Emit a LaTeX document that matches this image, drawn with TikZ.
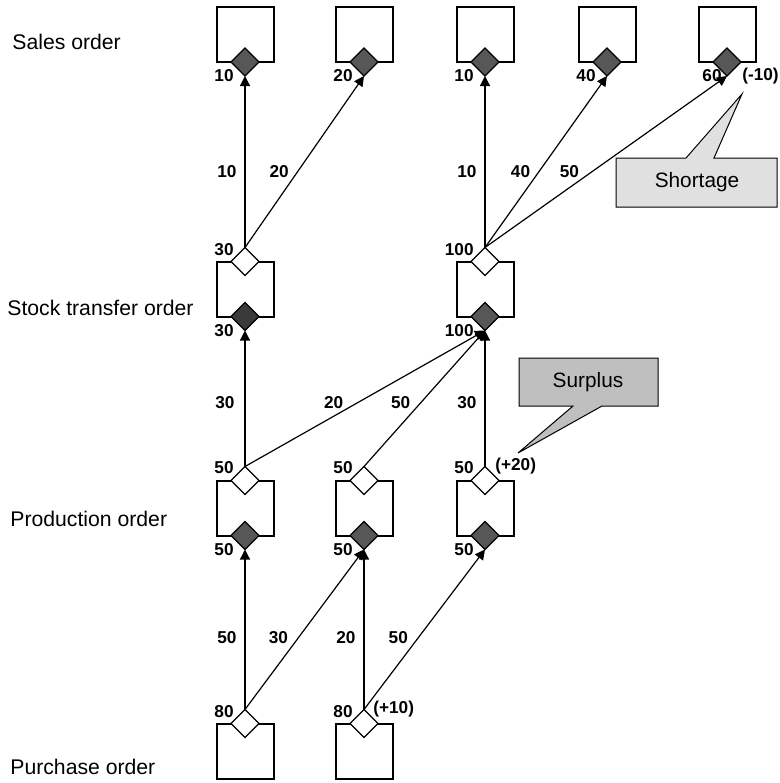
\documentclass[tikz,border=0pt]{standalone}
\usepackage{fontspec}
\setmainfont{Liberation Sans}
\usetikzlibrary{shapes.geometric,arrows.meta}

\definecolor{darkfill}{HTML}{575757}
\definecolor{darkerfill}{HTML}{3A3A3A}
\definecolor{shortfill}{HTML}{E0E0E0}
\definecolor{surplusfill}{HTML}{BFBFBF}

\tikzset{
  order/.style={draw, line width=1pt, minimum width=28.5pt, minimum height=27.5pt, inner sep=0pt, outer sep=0pt},
  supply/.style={diamond, draw, line width=0.6pt, fill=white, minimum width=14pt, minimum height=14pt, inner sep=0pt, outer sep=0pt},
  demand/.style={supply, fill=darkfill},
  qty/.style={font=\fontsize{8.6}{10}\selectfont\bfseries, inner sep=0pt},
  rowname/.style={font=\fontsize{10.6}{13}\selectfont, anchor=west, inner sep=0pt},
  flow/.style={line width=0.6pt, -{Triangle[length=5pt,width=5pt]}},
  note/.style={draw, line width=0.5pt, line join=miter}
}

\begin{document}
\begin{tikzpicture}[x=0.5pt,y=-0.5pt]
\useasboundingbox (0,0) rectangle (780,783);

% row names
\node[rowname] (salesrow) at (12,42) {Sales order};
\node[rowname] (stockrow) at (7,308) {Stock transfer order};
\node[rowname] (prodrow) at (10,519) {Production order};
\node[rowname] (purchrow) at (10,767) {Purchase order};

% sales orders
\node[order] (sa1) at (245,34.5) {};
\node[order] (sa2) at (364,34.5) {};
\node[order] (sa3) at (485,34.5) {};
\node[order] (sa4) at (607,34.5) {};
\node[order] (sa5) at (727,34.5) {};
\node[demand] (sa1d) at (sa1.south) {};
\node[demand] (sa2d) at (sa2.south) {};
\node[demand] (sa3d) at (sa3.south) {};
\node[demand] (sa4d) at (sa4.south) {};
\node[demand] (sa5d) at (sa5.south) {};

% stock transfer orders
\node[order] (st1) at (245,289) {};
\node[order] (st3) at (485,289) {};
\node[supply] (st1s) at (st1.north) {};
\node[supply] (st3s) at (st3.north) {};
\node[demand, fill=darkerfill] (st1d) at (st1.south) {};
\node[demand] (st3d) at (st3.south) {};

% production orders
\node[order] (pr1) at (245,508) {};
\node[order] (pr2) at (364,508) {};
\node[order] (pr3) at (485,508) {};
\node[supply] (pr1s) at (pr1.north) {};
\node[supply] (pr2s) at (pr2.north) {};
\node[supply] (pr3s) at (pr3.north) {};
\node[demand] (pr1d) at (pr1.south) {};
\node[demand] (pr2d) at (pr2.south) {};
\node[demand] (pr3d) at (pr3.south) {};

% purchase orders
\node[order] (pu1) at (245,751) {};
\node[order] (pu2) at (364,751) {};
\node[supply] (pu1s) at (pu1.north) {};
\node[supply] (pu2s) at (pu2.north) {};

% quantities at the diamonds
\node[qty, anchor=east] (sa1q) at ([shift={(-11,14)}]sa1d.center) {10};
\node[qty, anchor=east] (sa2q) at ([shift={(-11,14)}]sa2d.center) {20};
\node[qty, anchor=east] (sa3q) at ([shift={(-11,14)}]sa3d.center) {10};
\node[qty, anchor=east] (sa4q) at ([shift={(-11,14)}]sa4d.center) {40};
\node[qty, anchor=east] (sa5q) at ([shift={(-5,14)}]sa5d.center) {60};
\node[qty, anchor=west] (sa5x) at ([shift={(15,14)}]sa5d.center) {(-10)};

\node[qty, anchor=east] (st1sq) at ([shift={(-11,-12)}]st1s.center) {30};
\node[qty, anchor=east] (st3sq) at ([shift={(-11,-12)}]st3s.center) {100};
\node[qty, anchor=east] (st1dq) at ([shift={(-11,14)}]st1d.center) {30};
\node[qty, anchor=east] (st3dq) at ([shift={(-11,14)}]st3d.center) {100};

\node[qty, anchor=east] (pr1sq) at ([shift={(-11,-13)}]pr1s.center) {50};
\node[qty, anchor=east] (pr2sq) at ([shift={(-11,-13)}]pr2s.center) {50};
\node[qty, anchor=east] (pr3sq) at ([shift={(-11,-13)}]pr3s.center) {50};
\node[qty, anchor=west] (pr3x) at ([shift={(10,-14)}]pr3s.center) {(+20)};
\node[qty, anchor=east] (pr1dq) at ([shift={(-11,14)}]pr1d.center) {50};
\node[qty, anchor=east] (pr2dq) at ([shift={(-11,14)}]pr2d.center) {50};
\node[qty, anchor=east] (pr3dq) at ([shift={(-11,14)}]pr3d.center) {50};

\node[qty, anchor=east] (pu1sq) at ([shift={(-11,-12)}]pu1s.center) {80};
\node[qty, anchor=east] (pu2sq) at ([shift={(-11,-12)}]pu2s.center) {80};
\node[qty, anchor=west] (pu2x) at ([shift={(9,-14)}]pu2s.center) {(+10)};

% stock transfer -> sales
\draw[flow] (st1s.north) -- node[qty, left=4pt, pos=.44] {10} (sa1d.south);
\draw[flow] (st1s.north) -- node[qty, left=4pt, pos=.44] {20} (sa2d.south);
\draw[flow] (st3s.north) -- node[qty, left=4pt, pos=.44] {10} (sa3d.south);
\draw[flow] (st3s.north) -- node[qty, left=4pt, pos=.44] {40} (sa4d.south);
\draw[flow] (st3s.north) -- node[qty, left=6pt, pos=.44] {50} (sa5d.south);

% production -> stock transfer
\draw[flow] (pr1s.north) -- node[qty, left=5pt, pos=.47] {30} (st1d.south);
\draw[flow] (pr1s.north) -- node[qty, left=7pt, pos=.47] {20} (st3d.south);
\draw[flow] (pr2s.north) -- node[qty, left=5pt, pos=.47] {50} (st3d.south);
\draw[flow] (pr3s.north) -- node[qty, left=4pt, pos=.47] {30} (st3d.south);

% purchase -> production
\draw[flow] (pu1s.north) -- node[qty, left=4pt, pos=.45] {50} (pr1d.south);
\draw[flow] (pu1s.north) -- node[qty, left=5pt, pos=.45] {30} (pr2d.south);
\draw[flow] (pu2s.north) -- node[qty, left=4pt, pos=.45] {20} (pr2d.south);
\draw[flow] (pu2s.north) -- node[qty, left=5pt, pos=.45] {50} (pr3d.south);

% notes
\filldraw[note, fill=shortfill] (616,158) -- (686,158) -- (742,94) -- (714,158)
  -- (777,158) -- (777,207) -- (616,207) -- cycle;
\node[font=\fontsize{10.4}{12}\selectfont] (shortage) at (697,182) {Shortage};

\filldraw[note, fill=surplusfill] (519,358) -- (658,358) -- (658,406) -- (602,406)
  -- (518,453) -- (573,406) -- (519,406) -- cycle;
\node[font=\fontsize{10.4}{12}\selectfont] (surplus) at (588,382) {Surplus};

\end{tikzpicture}
\end{document}
